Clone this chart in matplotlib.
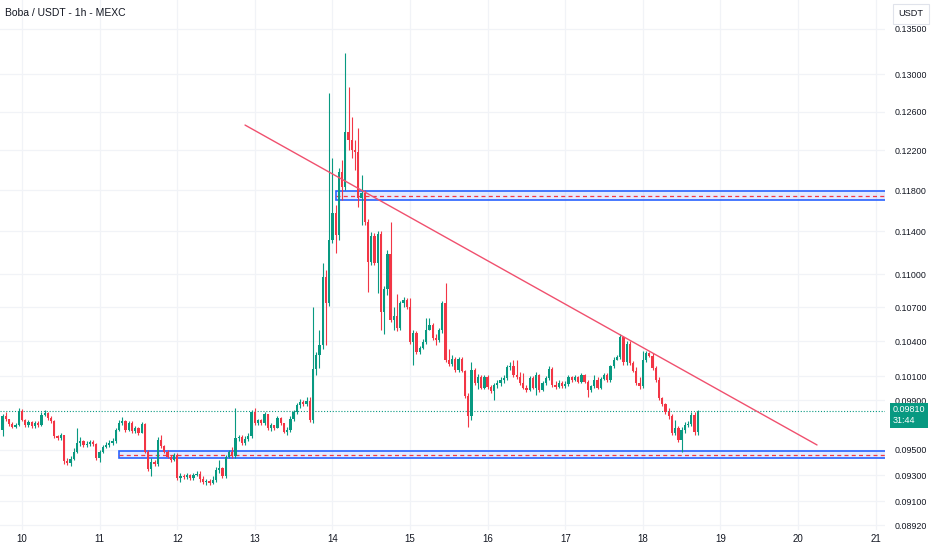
import numpy as np
import matplotlib
matplotlib.use("Agg")
import matplotlib.pyplot as plt
from matplotlib.patches import Rectangle
from matplotlib.ticker import FixedLocator, FixedFormatter, NullLocator

plt.rcParams['font.family'] = ['Liberation Sans Narrow', 'Liberation Sans', 'DejaVu Sans']

# ---------------- data (hourly candles, Boba/USDT, MEXC) ----------------
start_day = 9.75          # 9th, 18:00
first_open = 0.0966

closes = [
    0.09771, 0.09746, 0.09706, 0.09681, 0.09698, 0.09812, 0.09738, 0.09698, 0.09722, 0.09690,
    0.09714, 0.09698, 0.09779, 0.09795, 0.09754, 0.09730, 0.09609, 0.09593, 0.09617, 0.09410,
    0.09395, 0.09426, 0.09481, 0.09553, 0.09569, 0.09537, 0.09545, 0.09561, 0.09545, 0.09434,
    0.09481, 0.09521, 0.09537, 0.09553, 0.09569, 0.09657, 0.09714, 0.09730, 0.09657, 0.09714,
    0.09649, 0.09673, 0.09633, 0.09706, 0.09481, 0.09348, 0.09403, 0.09387, 0.09577, 0.09529,
    0.09481, 0.09442, 0.09418, 0.09458, 0.09278, 0.09293, 0.09285, 0.09301, 0.09278, 0.09301,
    0.09309, 0.09270, 0.09246, 0.09254, 0.09238, 0.09262, 0.09340, 0.09356, 0.09293, 0.09442,
    0.09481, 0.09450, 0.09593, 0.09601, 0.09553, 0.09585, 0.09609, 0.09804, 0.09714, 0.09738,
    0.09714, 0.09787, 0.09673, 0.09698, 0.09673, 0.09754, 0.09714, 0.09641, 0.09657, 0.09746,
    0.09804, 0.09861, 0.09886, 0.09869, 0.09894, 0.09738, 0.10162, 0.10281, 0.10368, 0.10974,
    0.10738, 0.11318, 0.11576, 0.11366, 0.11980, 0.11830, 0.12387, 0.12304, 0.12202, 0.12181,
    0.11723, 0.11772, 0.11490, 0.11112, 0.11356, 0.11103, 0.11375, 0.10657, 0.10864, 0.11187,
    0.10587, 0.10622, 0.10516, 0.10738, 0.10765, 0.10702, 0.10394, 0.10470, 0.10307, 0.10342,
    0.10394, 0.10498, 0.10542, 0.10428, 0.10411, 0.10498, 0.10738, 0.10239, 0.10204, 0.10247,
    0.10153, 0.10247, 0.10145, 0.09935, 0.09771, 0.10153, 0.10044, 0.10094, 0.10002, 0.10094,
    0.10010, 0.09977, 0.10027, 0.10044, 0.10069, 0.10086, 0.10179, 0.10187, 0.10111, 0.10094,
    0.10044, 0.10002, 0.09985, 0.10086, 0.10002, 0.10111, 0.09985, 0.10044, 0.10086, 0.10162,
    0.10027, 0.10010, 0.10044, 0.10019, 0.10035, 0.10094, 0.10069, 0.10094, 0.10052, 0.10111,
    0.10052, 0.09985, 0.10019, 0.10069, 0.10002, 0.10077, 0.10111, 0.10069, 0.10187, 0.10239,
    0.10264, 0.10437, 0.10221, 0.10376, 0.10213, 0.10145, 0.10044, 0.10019, 0.10239, 0.10298,
    0.10273, 0.10170, 0.10069, 0.09919, 0.09869, 0.09804, 0.09771, 0.09633, 0.09673, 0.09577,
    0.09657, 0.09698, 0.09706, 0.09779, 0.09641, 0.09810,
]

highs = [
    0.0979, 0.0980, 0.0975, 0.0972, 0.0971, 0.0984, 0.0983, 0.0975, 0.0974, 0.0973,
    0.0973, 0.0973, 0.0980, 0.0982, 0.0980, 0.0977, 0.0974, 0.0962, 0.0963, 0.0962,
    0.0943, 0.0945, 0.0951, 0.0967, 0.0960, 0.0958, 0.0957, 0.0958, 0.0958, 0.0955,
    0.0950, 0.0954, 0.0956, 0.0958, 0.0959, 0.0967, 0.0974, 0.0976, 0.0974, 0.0973,
    0.0973, 0.0969, 0.0968, 0.0972, 0.0971, 0.0950, 0.0943, 0.0942, 0.0960, 0.0962,
    0.0954, 0.0950, 0.0946, 0.0947, 0.0947, 0.0932, 0.0931, 0.0932, 0.0931, 0.0932,
    0.0933, 0.0933, 0.0929, 0.0927, 0.0927, 0.0929, 0.0936, 0.0942, 0.0936, 0.0946,
    0.0950, 0.0952, 0.0984, 0.0962, 0.0962, 0.0961, 0.0963, 0.0982, 0.0984, 0.0975,
    0.0975, 0.0980, 0.0979, 0.0971, 0.0970, 0.0977, 0.0976, 0.0971, 0.0968, 0.0977,
    0.0982, 0.0988, 0.0991, 0.0990, 0.0993, 0.0993, 0.1070, 0.1031, 0.1050, 0.1110,
    0.1104, 0.1280, 0.1212, 0.1165, 0.1202, 0.1210, 0.1323, 0.1286, 0.1254, 0.1230,
    0.1243, 0.1195, 0.1180, 0.1152, 0.1139, 0.1138, 0.1140, 0.1140, 0.1089, 0.1122,
    0.1149, 0.1070, 0.1082, 0.1076, 0.1079, 0.1078, 0.1078, 0.1050, 0.1049, 0.1036,
    0.1042, 0.1060, 0.1060, 0.1056, 0.1046, 0.1052, 0.1076, 0.1092, 0.1033, 0.1028,
    0.1026, 0.1026, 0.1026, 0.1015, 0.0996, 0.1022, 0.1017, 0.1012, 0.1011, 0.1011,
    0.1011, 0.1003, 0.1004, 0.1007, 0.1009, 0.1011, 0.1020, 0.1022, 0.1024, 0.1024,
    0.1014, 0.1013, 0.1003, 0.1010, 0.1010, 0.1014, 0.1012, 0.1006, 0.1010, 0.1019,
    0.1018, 0.1006, 0.1007, 0.1006, 0.1006, 0.1011, 0.1010, 0.1011, 0.1010, 0.1013,
    0.1012, 0.1007, 0.1003, 0.1011, 0.1009, 0.1009, 0.1013, 0.1013, 0.1020, 0.1026,
    0.1028, 0.1046, 0.1045, 0.1040, 0.1040, 0.1023, 0.1018, 0.1009, 0.1032, 0.1032,
    0.1031, 0.1030, 0.1019, 0.1009, 0.0993, 0.0988, 0.0984, 0.0979, 0.0974, 0.0969,
    0.0968, 0.0972, 0.0973, 0.0980, 0.0980, 0.0982,
]

lows = [
    0.0961, 0.0973, 0.0969, 0.0967, 0.0967, 0.0969, 0.0973, 0.0968, 0.0968, 0.0967,
    0.0967, 0.0968, 0.0969, 0.0977, 0.0974, 0.0971, 0.0959, 0.0958, 0.0958, 0.0939,
    0.0938, 0.0937, 0.0942, 0.0947, 0.0953, 0.0952, 0.0952, 0.0953, 0.0953, 0.0942,
    0.0940, 0.0947, 0.0951, 0.0952, 0.0954, 0.0955, 0.0965, 0.0970, 0.0964, 0.0965,
    0.0963, 0.0963, 0.0962, 0.0963, 0.0947, 0.0933, 0.0929, 0.0937, 0.0937, 0.0951,
    0.0947, 0.0943, 0.0940, 0.0941, 0.0926, 0.0925, 0.0927, 0.0927, 0.0926, 0.0926,
    0.0929, 0.0925, 0.0923, 0.0922, 0.0922, 0.0923, 0.0925, 0.0932, 0.0928, 0.0928,
    0.0943, 0.0943, 0.0943, 0.0957, 0.0954, 0.0954, 0.0957, 0.0959, 0.0970, 0.0970,
    0.0970, 0.0970, 0.0966, 0.0965, 0.0966, 0.0967, 0.0970, 0.0963, 0.0962, 0.0964,
    0.0973, 0.0979, 0.0984, 0.0985, 0.0985, 0.0972, 0.0971, 0.1011, 0.1017, 0.1033,
    0.1037, 0.1071, 0.1129, 0.1120, 0.1132, 0.1170, 0.1180, 0.1220, 0.1212, 0.1200,
    0.1163, 0.1146, 0.1146, 0.1084, 0.1108, 0.1108, 0.1083, 0.1050, 0.1046, 0.1081,
    0.1057, 0.1050, 0.1049, 0.1050, 0.1070, 0.1068, 0.1038, 0.1020, 0.1029, 0.1029,
    0.1033, 0.1038, 0.1050, 0.1041, 0.1037, 0.1039, 0.1047, 0.1022, 0.1019, 0.1019,
    0.1014, 0.1014, 0.1014, 0.0992, 0.0968, 0.0974, 0.1003, 0.0999, 0.0999, 0.0999,
    0.0999, 0.0996, 0.0990, 0.1000, 0.1002, 0.1004, 0.1007, 0.1015, 0.1009, 0.1008,
    0.1003, 0.0999, 0.0997, 0.0998, 0.0999, 0.0994, 0.0997, 0.0998, 0.1003, 0.1007,
    0.1001, 0.0999, 0.1000, 0.1000, 0.1000, 0.1002, 0.1005, 0.1006, 0.1004, 0.1004,
    0.1004, 0.0993, 0.0997, 0.1000, 0.0999, 0.0999, 0.1007, 0.1005, 0.1005, 0.1017,
    0.1024, 0.1025, 0.1020, 0.1020, 0.1020, 0.1014, 0.1003, 0.0999, 0.1000, 0.1022,
    0.1026, 0.1015, 0.1005, 0.0990, 0.0985, 0.0979, 0.0975, 0.0962, 0.0962, 0.0956,
    0.0948, 0.0963, 0.0968, 0.0969, 0.0962, 0.0962,
]

# zones and drawings
support_zone = (0.0943, 0.0949)     # lower blue box
support_mid = 0.0946
support_start = 11.253
resist_zone = (0.1170, 0.1179)      # upper blue box
resist_mid = 0.11745
resist_start = 14.05
trend_days = [12.874, 20.245]
trend_prices = [0.12459, 0.09537]
last_price = 0.0981
last_label = "0.09810\n31:44"

day_ticks = [10, 11, 12, 13, 14, 15, 16, 17, 18, 19, 20, 21]
price_ticks = [0.0892, 0.0910, 0.0930, 0.0950, 0.0990, 0.1010, 0.1040, 0.1070,
               0.1100, 0.1140, 0.1180, 0.1220, 0.1260, 0.1300, 0.1350]

# ---------------- drawing ----------------
UP = '#089981'
DOWN = '#f23645'
BLUE = '#2962ff'

c = np.array(closes)
o = np.concatenate([[first_open], c[:-1]])
h = np.maximum(np.array(highs), np.maximum(o, c))
l = np.minimum(np.array(lows), np.minimum(o, c))
t = start_day + np.arange(len(c)) / 24.0
cols = np.where(c >= o, UP, DOWN)

fig = plt.figure(figsize=(9.32, 5.5), dpi=100)
fig.patch.set_facecolor('white')
ax = fig.add_axes([0, 20 / 550, 885 / 932, 530 / 550])
ax.set_yscale('log')
ax.set_xlim(9.7165, 21.121)
ax.set_ylim(0.08883, 0.13831)

for s in ax.spines.values():
    s.set_visible(False)

ax.grid(True, color='#f1f3f7', lw=0.9, zorder=0)
ax.set_axisbelow(True)

# zones (rectangles with blue border, pale fill, dashed red middle line)
xr = ax.get_xlim()[1]
for (lo, hi), mid, x0 in [(support_zone, support_mid, support_start),
                          (resist_zone, resist_mid, resist_start)]:
    ax.add_patch(Rectangle((x0, lo), xr - x0 + 0.2, hi - lo, fc=(0.16, 0.38, 1.0, 0.13),
                           ec=BLUE, lw=1.2, zorder=2))
    ax.hlines([mid], x0, xr, color=DOWN, lw=0.9, linestyles=[(0, (3.2, 2.6))], zorder=2)

# current price line
ax.axhline(last_price, color=UP, lw=0.8, ls=(0, (1, 1.6)), zorder=1.5)

# candles
w = 0.70 / 24
ax.vlines(t, l, h, colors=cols, lw=0.8, zorder=3)
body_lo = np.minimum(o, c)
body_h = np.maximum(np.abs(c - o), 0.00003)
ax.bar(t, body_h, bottom=body_lo, width=w, color=cols, lw=0, zorder=4)

# trend line
ax.plot(trend_days, trend_prices, color='#f0506e', lw=1.0, zorder=5,
        solid_capstyle='round')

# axes ticks
ax.xaxis.set_major_locator(FixedLocator(day_ticks))
ax.xaxis.set_major_formatter(FixedFormatter([str(d) for d in day_ticks]))
ax.yaxis.set_major_locator(FixedLocator(price_ticks))
ax.yaxis.set_major_formatter(FixedFormatter(['%.5f' % p for p in price_ticks]))
ax.yaxis.set_minor_locator(NullLocator())
ax.xaxis.set_minor_locator(NullLocator())
ax.yaxis.tick_right()
ax.tick_params(axis='y', length=0, pad=7, labelsize=6.4, labelcolor='#131722')
ax.tick_params(axis='x', length=0, pad=3, labelsize=7, labelcolor='#131722')

# last price tag
ax.annotate(last_label, xy=(1, last_price), xycoords=ax.get_yaxis_transform(),
            xytext=(5.5, -3), textcoords='offset points', ha='left', va='center',
            color='white', fontsize=6.5, linespacing=1.25,
            bbox=dict(boxstyle='square,pad=0.28', fc=UP, ec='none'),
            annotation_clip=False, zorder=10)

# currency box top right
fig.patches.append(Rectangle((893 / 932, 1 - 24 / 550), 36 / 932, 20 / 550,
                             transform=fig.transFigure, fc='white', ec='#e0e3eb', lw=0.8))
fig.text(911 / 932, 1 - 14 / 550, 'USDT', ha='center', va='center', fontsize=6.6,
         color='#131722')

# title
fig.text(5 / 932, 1 - 13 / 550, 'Boba / USDT - 1h - MEXC', ha='left', va='center',
         fontsize=7.5, color='#131722')

fig.savefig('out.png', dpi=100, facecolor='white')
